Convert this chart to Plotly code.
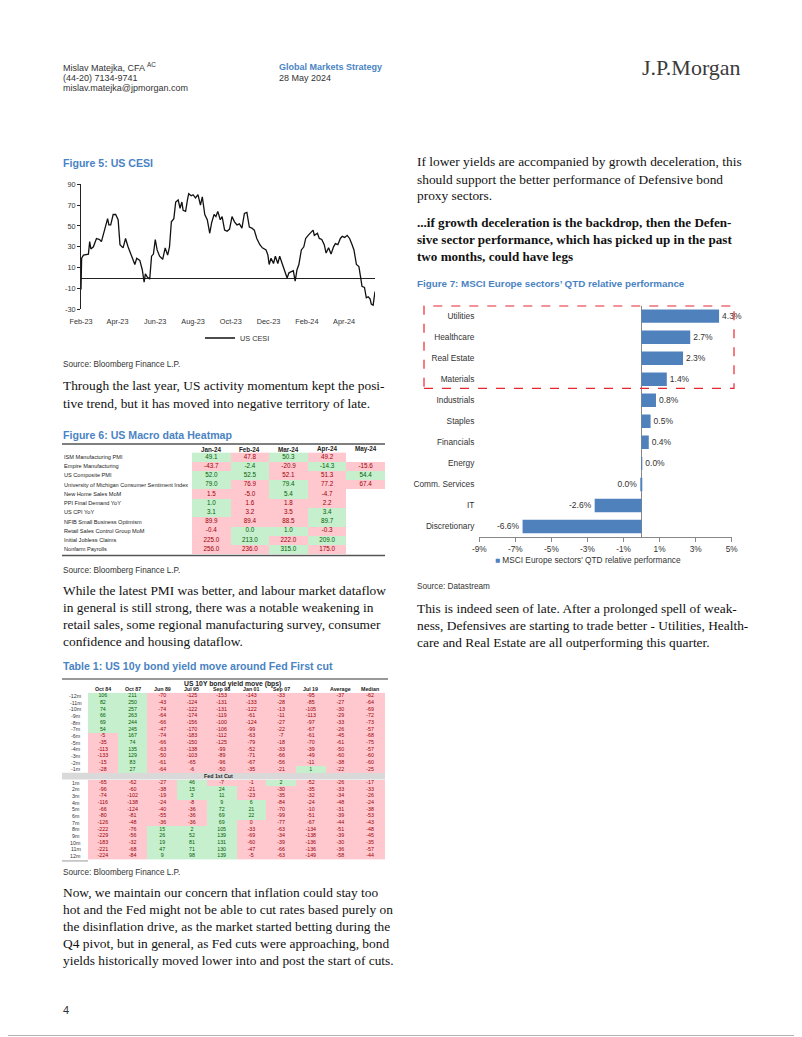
import plotly.graph_objects as go

# Browser body margin is 8px: the figure is drawn 8px from the page's top-left corner.
OFF = 8
W, H = 794, 1029


def px(x):
    return (x - OFF) / W


def py(y):
    return 1 - (y - OFF) / H


SANS = "Liberation Sans Narrow, Arial Narrow, Liberation Sans, Arial, sans-serif"
SERIF = "Liberation Serif, Times New Roman, serif"
BLUE = "#4a83c3"
BAR_BLUE = "#4f81bd"
PINK = "#ffc7ce"
GREEN = "#c6efce"
RED_TXT = "#9c0006"
GREEN_TXT = "#006100"

# ---------------- Figure 5: US CESI ----------------
cesi_dates = [
    "2023-02-01", "2023-02-02", "2023-02-05", "2023-02-13", "2023-02-15", "2023-02-17", "2023-02-21",
    "2023-02-26", "2023-03-03", "2023-03-06", "2023-03-11", "2023-03-16", "2023-03-18", "2023-03-21",
    "2023-03-25", "2023-03-29", "2023-04-02", "2023-04-05", "2023-04-10", "2023-04-14", "2023-04-18",
    "2023-04-23", "2023-04-29", "2023-05-02", "2023-05-07", "2023-05-11", "2023-05-14", "2023-05-16",
    "2023-05-19", "2023-05-23", "2023-05-26", "2023-05-29", "2023-06-01", "2023-06-04", "2023-06-08",
    "2023-06-13", "2023-06-17", "2023-06-21", "2023-06-24", "2023-06-27", "2023-07-01", "2023-07-04",
    "2023-07-08", "2023-07-11", "2023-07-14", "2023-07-16", "2023-07-20", "2023-07-23", "2023-07-25",
    "2023-07-29", "2023-08-01", "2023-08-05", "2023-08-09", "2023-08-13", "2023-08-16", "2023-08-20",
    "2023-08-24", "2023-08-28", "2023-08-31", "2023-09-04", "2023-09-07", "2023-09-10", "2023-09-14",
    "2023-09-17", "2023-09-21", "2023-09-25", "2023-09-29", "2023-10-03", "2023-10-07", "2023-10-11",
    "2023-10-15", "2023-10-19", "2023-10-23", "2023-10-27", "2023-10-31", "2023-11-04", "2023-11-08",
    "2023-11-12", "2023-11-17", "2023-11-21", "2023-11-27", "2023-11-30", "2023-12-02", "2023-12-05",
    "2023-12-09", "2023-12-12", "2023-12-16", "2023-12-19", "2023-12-22", "2023-12-27", "2023-12-31",
    "2024-01-03", "2024-01-06", "2024-01-10", "2024-01-13", "2024-01-16", "2024-01-19", "2024-01-23",
    "2024-01-27", "2024-01-30", "2024-02-03", "2024-02-07", "2024-02-11", "2024-02-13", "2024-02-18",
    "2024-02-21", "2024-02-25", "2024-02-29", "2024-03-03", "2024-03-07", "2024-03-11", "2024-03-15",
    "2024-03-18", "2024-03-22", "2024-03-26", "2024-03-29", "2024-04-02", "2024-04-06", "2024-04-10",
    "2024-04-14", "2024-04-17", "2024-04-21", "2024-04-25", "2024-04-28", "2024-04-30", "2024-05-04",
    "2024-05-07", "2024-05-10", "2024-05-13", "2024-05-15", "2024-05-18", "2024-05-21",
]
cesi_values = [
    -11, 19, 22, 23, 35, 28, 30,
    38, 37, 35, 46, 57, 51, 51,
    61, 61, 56, 32, 29, 38, 30,
    22, 13, 19, 17, 8, -4, 4,
    1, -1, 21, 23, 37, 27, 21,
    18, 29, 22, 30, 54, 57, 73,
    75, 67, 73, 65, 64, 75, 81,
    79, 80, 77, 80, 70, 78, 61,
    56, 43, 53, 61, 59, 64, 56,
    59, 46, 45, 47, 59, 54, 51,
    52, 48, 62, 63, 49, 48, 46,
    38, 32, 29, 27, 22, 13, 19,
    14, 21, 14, 21, 16, 7, 0,
    5, 6, 7, -3, 8, 13, 27,
    30, 38, 41, 44, 46, 41, 43,
    38, 37, 32, 24, 29, 23, 30,
    33, 32, 38, 40, 39, 41, 38,
    32, 27, 13, 11, 0, -8, -9,
    -19, -18, -20, -25, -26, -13,
]
cesi_month_ticks = ["2023-02-01", "2023-04-01", "2023-06-01", "2023-08-01", "2023-10-01",
                    "2023-12-01", "2024-02-01", "2024-04-01"]
cesi_month_labels = ["Feb-23", "Apr-23", "Jun-23", "Aug-23", "Oct-23", "Dec-23", "Feb-24", "Apr-24"]
cesi_y_ticks = [-30, -10, 10, 30, 50, 70, 90]

# ---------------- Figure 6: US Macro data Heatmap ----------------
macro_months = ["Jan-24", "Feb-24", "Mar-24", "Apr-24", "May-24"]
macro_indicators = [
    "ISM Manufacturing PMI",
    "Empire Manufacturing",
    "US Composite PMI",
    "University of Michigan Consumer Sentiment Index",
    "New Home Sales MoM",
    "PPI Final Demand YoY",
    "US CPI YoY",
    "NFIB Small Business Optimism",
    "Retail Sales Control Group MoM",
    "Initial Jobless Claims",
    "Nonfarm Payrolls",
]
macro_values = [
    [49.1, 47.8, 50.3, 49.2, None],
    [-43.7, -2.4, -20.9, -14.3, -15.6],
    [52.0, 52.5, 52.1, 51.3, 54.4],
    [79.0, 76.9, 79.4, 77.2, 67.4],
    [1.5, -5.0, 5.4, -4.7, None],
    [1.0, 1.6, 1.8, 2.2, None],
    [3.1, 3.2, 3.5, 3.4, None],
    [89.9, 89.4, 88.5, 89.7, None],
    [-0.4, 0.0, 1.0, -0.3, None],
    [225.0, 213.0, 222.0, 209.0, None],
    [256.0, 236.0, 315.0, 175.0, None],
]
macro_signal = [
    ["G", "R", "G", "R", ""],
    ["R", "G", "R", "G", "R"],
    ["G", "G", "R", "R", "G"],
    ["G", "R", "G", "R", "R"],
    ["R", "R", "G", "R", ""],
    ["G", "R", "R", "R", ""],
    ["G", "R", "R", "G", ""],
    ["R", "R", "R", "G", ""],
    ["R", "G", "G", "R", ""],
    ["R", "G", "R", "G", ""],
    ["R", "R", "G", "R", ""],
]

# ---------------- Table 1: US 10y bond yield move ----------------
cut_events = ["Oct 84", "Oct 87", "Jun 89", "Jul 95", "Sep 98", "Jan 01", "Sep 07", "Jul 19", "Average", "Median"]
pre_cut_labels = ["-12m", "-11m", "-10m", "-9m", "-8m", "-7m", "-6m", "-5m", "-4m", "-3m", "-2m", "-1m"]
pre_cut_moves = [
    [106, 211, -70, -125, -153, -143, -33, -95, -37, -62],
    [82, 250, -43, -124, -131, -133, -28, -85, -27, -64],
    [74, 257, -74, -122, -131, -122, -13, -105, -30, -69],
    [66, 263, -64, -174, -119, -61, -11, -113, -29, -72],
    [69, 244, -66, -156, -100, -124, -27, -97, -33, -73],
    [54, 245, -47, -170, -106, -99, -22, -67, -26, -57],
    [-5, 167, -74, -183, -112, -63, -7, -61, -45, -68],
    [-35, 74, -66, -150, -125, -79, -18, -70, -61, -75],
    [-113, 135, -63, -138, -99, -52, -33, -39, -50, -57],
    [-133, 129, -50, -103, -89, -71, -66, -49, -60, -60],
    [-15, 83, -61, -65, -96, -67, -56, -11, -38, -60],
    [-28, 27, -64, -6, -50, -35, -21, 1, -22, -25],
]
post_cut_labels = ["1m", "2m", "3m", "4m", "5m", "6m", "7m", "8m", "9m", "10m", "11m", "12m"]
post_cut_moves = [
    [-65, -62, -27, 46, -7, -1, 2, -52, -26, -17],
    [-96, -60, -38, 15, 24, -21, -30, -35, -33, -33],
    [-74, -102, -19, 3, 11, -23, -35, -32, -34, -26],
    [-116, -138, -24, -8, 9, 6, -84, -24, -48, -24],
    [-66, -124, -40, -36, 72, 21, -70, -10, -31, -38],
    [-80, -81, -55, -36, 69, 22, -99, -51, -39, -53],
    [-126, -48, -36, -36, 69, 0, -77, -67, -44, -43],
    [-222, -76, 15, 2, 105, -33, -63, -134, -51, -48],
    [-229, -56, 26, 52, 139, -69, -34, -138, -39, -45],
    [-183, -32, 19, 81, 131, -60, -39, -136, -30, -35],
    [-221, -68, 47, 71, 130, -47, -66, -136, -36, -57],
    [-224, -84, 9, 98, 139, -5, -63, -149, -58, -44],
]

# ---------------- Figure 7: MSCI Europe sectors ----------------
sectors = ["Utilities", "Healthcare", "Real Estate", "Materials", "Industrials", "Staples",
           "Financials", "Energy", "Comm. Services", "IT", "Discretionary"]
sector_perf = [4.3, 2.7, 2.3, 1.4, 0.8, 0.5, 0.4, 0.02, -0.02, -2.6, -6.6]
perf_ticks = [-9, -7, -5, -3, -1, 1, 3, 5]

# ---------------- Text ----------------
para_left_1 = [
    "Through the last year, US activity momentum kept the posi-",
    "tive trend, but it has moved into negative territory of late.",
]
para_left_2 = [
    "While the latest PMI was better, and labour market dataflow",
    "in general is still strong, there was a notable weakening in",
    "retail sales, some regional manufacturing survey, consumer",
    "confidence and housing dataflow.",
]
para_left_3 = [
    "Now, we maintain our concern that inflation could stay too",
    "hot and the Fed might not be able to cut rates based purely on",
    "the disinflation drive, as the market started betting during the",
    "Q4 pivot, but in general, as Fed cuts were approaching, bond",
    "yields historically moved lower into and post the start of cuts.",
]
para_right_1 = [
    "If lower yields are accompanied by growth deceleration, this",
    "should support the better performance of Defensive bond",
    "proxy sectors.",
]
para_right_bold = [
    "...if growth deceleration is the backdrop, then the Defen-",
    "sive sector performance, which has picked up in the past",
    "two months, could have legs",
]
para_right_2 = [
    "This is indeed seen of late. After a prolonged spell of weak-",
    "ness, Defensives are starting to trade better - Utilities, Health-",
    "care and Real Estate are all outperforming this quarter.",
]

# =====================================================================
fig = go.Figure()
annotations = []
shapes = []


def txt(x, y, s, size, color="#222", family=SANS, anchor="left"):
    annotations.append(dict(x=px(x), y=py(y), xref="paper", yref="paper", text=s,
                            showarrow=False, xanchor=anchor, yanchor="middle",
                            font=dict(size=size, color=color, family=family), borderpad=0))


def hline(x0, x1, y, color="#555", width=1.5):
    shapes.append(dict(type="line", xref="paper", yref="paper", x0=px(x0), x1=px(x1),
                       y0=py(y), y1=py(y), line=dict(color=color, width=width)))


# --- CESI line ---
fig.add_trace(go.Scatter(x=cesi_dates, y=cesi_values, mode="lines", name="US CESI",
                         line=dict(color="#111", width=1.3), xaxis="x", yaxis="y",
                         legend="legend"))

# --- Figure 7 bars ---
bar_text = [f"{abs(v):.1f}%" if abs(v) < 0.05 else f"{v:.1f}%" for v in sector_perf]
fig.add_trace(go.Bar(y=sectors, x=sector_perf, orientation="h", marker_color=BAR_BLUE,
                     text=bar_text, textposition="outside", cliponaxis=False,
                     textfont=dict(size=8.5, color="#333", family=SANS),
                     name="MSCI Europe sectors' QTD relative performance",
                     xaxis="x2", yaxis="y2", showlegend=False))

# --- Figure 6 heatmap ---
cs = [[0, PINK], [0.5, PINK], [0.5, GREEN], [1, GREEN]]
macro_z = [[(1 if s == "G" else 0) if s else None for s in row] for row in macro_signal]
fig.add_trace(go.Heatmap(z=macro_z, x=list(range(len(macro_months))), y=list(range(len(macro_indicators))),
                         colorscale=cs, zmin=0, zmax=1, showscale=False, hoverinfo="skip",
                         xaxis="x3", yaxis="y3"))
mx, my, mt, mc = [], [], [], []
for i, row in enumerate(macro_values):
    for j, v in enumerate(row):
        if v is None:
            continue
        mx.append(j)
        my.append(i)
        mt.append(f"{v:.1f}")
        mc.append(GREEN_TXT if macro_signal[i][j] == "G" else RED_TXT)
fig.add_trace(go.Scatter(x=mx, y=my, text=mt, mode="text", textfont=dict(size=6.3, color=mc, family=SANS),
                         hoverinfo="skip", showlegend=False, xaxis="x3", yaxis="y3"))

# --- Table 1 heatmap ---
all_rows = pre_cut_moves + [[None] * len(cut_events)] + post_cut_moves
t_z = [[None if v is None else (1 if v > 0 else 0) for v in row] for row in all_rows]
fig.add_trace(go.Heatmap(z=t_z, x=list(range(len(cut_events))), y=list(range(len(all_rows))),
                         colorscale=cs, zmin=0, zmax=1, showscale=False, hoverinfo="skip",
                         xaxis="x4", yaxis="y4"))
tx, ty, tt, tc = [], [], [], []
for i, row in enumerate(all_rows):
    for j, v in enumerate(row):
        if v is None:
            continue
        tx.append(j)
        ty.append(i)
        tt.append(str(v))
        tc.append(GREEN_TXT if v > 0 else RED_TXT)
fig.add_trace(go.Scatter(x=tx, y=ty, text=tt, mode="text", textfont=dict(size=5.3, color=tc, family=SANS),
                         hoverinfo="skip", showlegend=False, xaxis="x4", yaxis="y4"))

# ---------------- Header ----------------
txt(62, 67, "Mislav Matejka, CFA <sup>AC</sup>", 9, "#333")
txt(62, 77.5, "(44-20) 7134-9741", 9, "#333")
txt(62, 88, "mislav.matejka@jpmorgan.com", 9, "#333")
txt(278, 66.5, "<b>Global Markets Strategy</b>", 9, BLUE)
txt(278, 77.5, "28 May 2024", 9, "#333")
txt(742, 68, "J.P.Morgan", 22, "#3b3b3b", SERIF, anchor="right")

# ---------------- Headings & sources ----------------
HEAD = 10.6
SRC = 8.2
txt(62, 163, "<b>Figure 5: US CESI</b>", HEAD, BLUE)
txt(62, 365, "Source: Bloomberg Finance L.P.", SRC, "#333")
txt(62, 435, "<b>Figure 6: US Macro data Heatmap</b>", HEAD, BLUE)
txt(62, 570, "Source: Bloomberg Finance L.P.", SRC, "#333")
txt(62, 666, "<b>Table 1: US 10y bond yield move around Fed First cut</b>", HEAD, BLUE)
txt(62, 872, "Source: Bloomberg Finance L.P.", SRC, "#333")
txt(416, 284, "<b>Figure 7: MSCI Europe sectors\u2019 QTD relative performance</b>", 9.8, BLUE)
txt(416, 586, "Source: Datastream", SRC, "#333")
txt(62, 1010, "4", 11, "#333")

# ---------------- Body text ----------------
LH = 17
BODY = 13.4
for k, line in enumerate(para_left_1):
    txt(62, 386 + k * LH, line, BODY, "#111", SERIF)
for k, line in enumerate(para_left_2):
    txt(62, 590 + k * LH, line, BODY, "#111", SERIF)
for k, line in enumerate(para_left_3):
    txt(62, 892 + k * LH, line, BODY, "#111", SERIF)
for k, line in enumerate(para_right_1):
    txt(416, 162 + k * LH, line, BODY, "#111", SERIF)
for k, line in enumerate(para_right_bold):
    txt(416, 222 + k * LH, f"<b>{line}</b>", 13.1, "#111", SERIF)
for k, line in enumerate(para_right_2):
    txt(416, 608 + k * LH, line, BODY, "#111", SERIF)

# ---------------- Figure 6 table text ----------------
M_X0, M_X1 = 192, 385
M_Y0, M_Y1 = 452.4, 554
m_cw = (M_X1 - M_X0) / len(macro_months)
m_rh = (M_Y1 - M_Y0) / len(macro_indicators)
hline(62, 385, 444, "#555", 1.6)
hline(62, 385, 555.5, "#555", 1.6)
for j, m in enumerate(macro_months):
    txt(M_X0 + (j + 0.5) * m_cw, 449.3, f"<b>{m}</b>", 6.3, "#222", anchor="center")
for i, name in enumerate(macro_indicators):
    txt(63, M_Y0 + (i + 0.5) * m_rh, name, 5.6, "#222")

# ---------------- Table 1 text ----------------
T_X0, T_X1 = 88, 385
T_Y0 = 692.7
t_rh = 6.67
t_cw = (T_X1 - T_X0) / len(cut_events)
T_Y1 = T_Y0 + t_rh * len(all_rows)
hline(62, 388, 679, "#777", 1.6)
txt(232, 683.5, "<b>US 10Y bond yield move (bps)</b>", 6.8, "#222", anchor="center")
for j, ev in enumerate(cut_events):
    txt(T_X0 + (j + 0.5) * t_cw, 689, f"<b>{ev}</b>", 5.3, "#222", anchor="center")
row_labels = pre_cut_labels + [""] + post_cut_labels
cut_idx = len(pre_cut_labels)
for i, lab in enumerate(row_labels):
    if lab:
        txt(75.5, T_Y0 + (i + 0.5) * t_rh, lab, 5.3, "#333", anchor="center")
shapes.append(dict(type="rect", xref="paper", yref="paper", x0=px(62), x1=px(385),
                   y0=py(T_Y0 + (cut_idx + 1) * t_rh), y1=py(T_Y0 + cut_idx * t_rh),
                   fillcolor="#d9d9d9", line=dict(width=0), layer="below"))
txt(218, T_Y0 + (cut_idx + 0.5) * t_rh, "<b>Fed 1st Cut</b>", 5.3, "#222", anchor="center")
hline(62, 88, T_Y1 + 1.5, "#999", 1)

# ---------------- Figure 7 extras ----------------
shapes.append(dict(type="rect", xref="paper", yref="paper", x0=px(424), x1=px(734),
                   y0=py(388.3), y1=py(306), line=dict(color="#e8262f", width=1.2, dash="dash")))
txt(494, 559.5, f"<span style='color:{BAR_BLUE}'>\u25A0</span> MSCI Europe sectors' QTD relative performance",
    8.3, "#333")

# page border (right and bottom edges of the printed page)
shapes.append(dict(type="line", xref="paper", yref="paper", x0=px(800.5), x1=px(800.5),
                   y0=py(1035.5), y1=1, line=dict(color="#b0b0b0", width=1)))
shapes.append(dict(type="line", xref="paper", yref="paper", x0=0, x1=px(800.5),
                   y0=py(1035.5), y1=py(1035.5), line=dict(color="#b0b0b0", width=1)))

axis_common = dict(showgrid=False, zeroline=False)
fig.update_layout(
    width=W, height=H, template="none",
    margin=dict(l=0, r=0, t=0, b=0),
    paper_bgcolor="white", plot_bgcolor="rgba(0,0,0,0)",
    font=dict(family=SANS, color="#222"),
    # CESI
    xaxis=dict(domain=[px(81), px(375)], anchor="y", type="date",
               range=[cesi_dates[0], cesi_dates[-1]], tickvals=cesi_month_ticks, ticktext=cesi_month_labels,
               ticks="outside", ticklen=5, tickcolor="rgba(0,0,0,0)",
               showline=False, tickfont=dict(size=7.3, color="#333"), **axis_common),
    yaxis=dict(domain=[py(309.3), py(184.3)], anchor="x", range=[-30, 90],
               tickvals=cesi_y_ticks, ticktext=[str(v) for v in cesi_y_ticks],
               showline=True, linecolor="#222",
               linewidth=1, ticks="outside", ticklen=3, tickcolor="#222",
               tickfont=dict(size=7.3, color="#333"), showgrid=False,
               zeroline=True, zerolinecolor="#222", zerolinewidth=1),
    # Figure 7
    xaxis2=dict(domain=[px(479.3), px(731.7)], anchor="y2", range=[-9, 5],
                tickvals=perf_ticks, ticktext=[f"{v}%" for v in perf_ticks],
                showline=True, linecolor="#888", ticks="outside", ticklen=4,
                tickcolor="#888", tickfont=dict(size=8.3, color="#333"), showgrid=False,
                zeroline=True, zerolinecolor="#888", zerolinewidth=1),
    yaxis2=dict(domain=[py(537), py(305.6)], anchor="x2", type="category",
                categoryorder="array", categoryarray=sectors, autorange="reversed",
                ticks="", showline=False, tickfont=dict(size=8.3, color="#333"),
                ticklabelstandoff=4, **axis_common),
    bargap=0.36,
    # Figure 6 table
    xaxis3=dict(domain=[px(M_X0), px(M_X1)], anchor="y3", range=[-0.5, len(macro_months) - 0.5],
                visible=False, **axis_common),
    yaxis3=dict(domain=[py(M_Y1), py(M_Y0)], anchor="x3", range=[len(macro_indicators) - 0.5, -0.5],
                visible=False, **axis_common),
    # Table 1
    xaxis4=dict(domain=[px(T_X0), px(T_X1)], anchor="y4", range=[-0.5, len(cut_events) - 0.5],
                visible=False, **axis_common),
    yaxis4=dict(domain=[py(T_Y1), py(T_Y0)], anchor="x4", range=[len(all_rows) - 0.5, -0.5],
                visible=False, **axis_common),
    legend=dict(x=px(200), y=py(338), xanchor="left", yanchor="middle", orientation="h",
                font=dict(size=7.3, color="#333"), itemwidth=30, bgcolor="rgba(0,0,0,0)"),
    annotations=annotations,
    shapes=shapes,
    showlegend=True,
)

fig.write_html("out.html")
